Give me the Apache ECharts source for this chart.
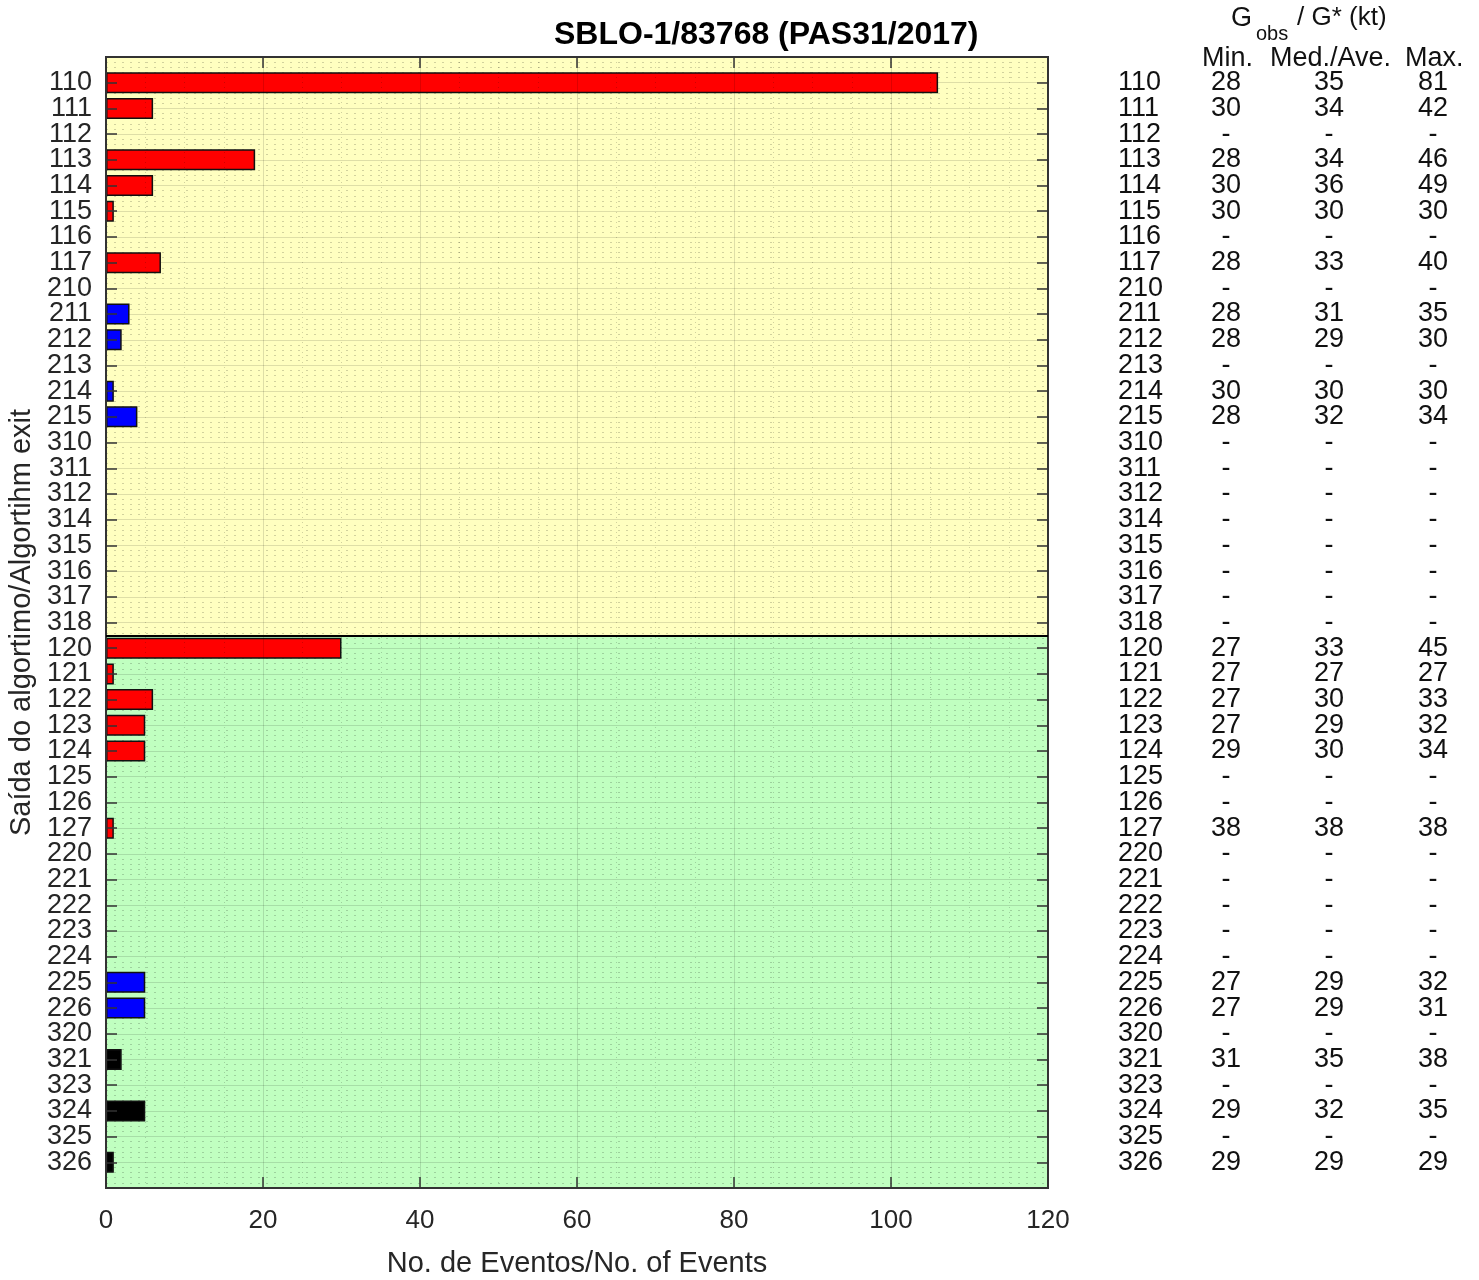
<!DOCTYPE html>
<html>
<head>
<meta charset="utf-8">
<script src="https://cdn.jsdelivr.net/npm/echarts@6/dist/echarts.min.js"></script>
<style>html,body{margin:0;padding:0;background:#fff;}#c{width:1479px;height:1280px;}</style>
</head>
<body>
<div id="c"></div>
<script>
const categories = ['110','111','112','113','114','115','116','117','210','211','212','213','214','215','310','311','312','314','315','316','317','318',
  '120','121','122','123','124','125','126','127','220','221','222','223','224','225','226','320','321','323','324','325','326'];
const eventCounts = [106,6,0,19,6,1,0,7,0,3,2,0,1,4,0,0,0,0,0,0,0,0,
  30,1,6,5,5,0,0,1,0,0,0,0,0,5,5,0,2,0,5,0,1];
const gMin = ['28','30','-','28','30','30','-','28','-','28','28','-','30','28','-','-','-','-','-','-','-','-',
  '27','27','27','27','29','-','-','38','-','-','-','-','-','27','27','-','31','-','29','-','29'];
const gMed = ['35','34','-','34','36','30','-','33','-','31','29','-','30','32','-','-','-','-','-','-','-','-',
  '33','27','30','29','30','-','-','38','-','-','-','-','-','29','29','-','35','-','32','-','29'];
const gMax = ['81','42','-','46','49','30','-','40','-','35','30','-','30','34','-','-','-','-','-','-','-','-',
  '45','27','33','32','34','-','-','38','-','-','-','-','-','32','31','-','38','-','35','-','29'];
const xTicks = [0,20,40,60,80,100,120];
const upperGroupSize = 22; // rows 110..318 form the upper (yellow) group

const chart = echarts.init(document.getElementById('c'));
const N = categories.length;
const groupSplit = upperGroupSize + 0.5;
const padCats = [''].concat(categories, ['']);
const colorFor = c => c[0] === '1' ? '#ff0000' : (c[0] === '2' ? '#0000ff' : '#000000');
const barData = [null].concat(eventCounts.map((v, i) => v > 0 ? {value: v, itemStyle: {color: colorFor(categories[i])}} : '-'), [null]);

const FONT = 'Liberation Sans, Arial, sans-serif';
const TXT = '#262626';
const FS = 26;
const FSY = 27;
const FRAME = {show: true, onZero: false, lineStyle: {color: '#333', width: 2}};
const TICK = {show: true, inside: true, length: 11, interval: 0, lineStyle: {color: '#333', width: 1.5}};

function tableAxis(arr, offset, align) {
  return {
    type: 'category', data: padCats, inverse: true, boundaryGap: false, position: 'right',
    offset: offset, gridIndex: 0,
    axisLine: {show: false, onZero: false}, axisTick: {show: false}, splitLine: {show: false},
    axisLabel: {interval: 0, margin: 0, align: align, fontSize: FSY, fontFamily: FONT, color: '#111',
      formatter: (v, idx) => (idx >= 1 && idx <= N) ? arr[idx - 1] : ''}
  };
}

const option = {
  animation: false,
  backgroundColor: '#ffffff',
  grid: {left: 106, right: 431, top: 57, bottom: 92, show: true, borderColor: '#333', borderWidth: 2,
    backgroundColor: 'transparent', containLabel: false, outerBoundsMode: 'none'},
  xAxis: [
    {type: 'value', min: 0, max: 120, interval: 20, position: 'bottom',
      axisLine: FRAME, axisTick: TICK,
      axisLabel: {fontSize: FS, fontFamily: FONT, color: TXT, margin: 20, formatter: v => xTicks.indexOf(v) >= 0 ? String(v) : ''},
      splitLine: {show: true, lineStyle: {color: 'rgba(0,0,0,0.13)', width: 1}},
      minorTick: {show: true, splitNumber: 4, length: 0, lineStyle: {opacity: 0}},
      minorSplitLine: {show: true, lineStyle: {color: 'rgba(0,0,0,0.18)', type: [1, 4], width: 1}},
      name: 'No. de Eventos/No. of Events', nameLocation: 'middle', nameGap: 61,
      nameTextStyle: {fontSize: 29, fontFamily: FONT, color: TXT}, z: 3},
    {type: 'value', min: 0, max: 120, interval: 20, position: 'top',
      axisLine: FRAME, axisTick: TICK,
      axisLabel: {show: false}, splitLine: {show: false}, z: 3}
  ],
  yAxis: [
    {type: 'category', data: padCats, inverse: true, boundaryGap: false, position: 'left',
      axisLine: FRAME, axisTick: TICK,
      axisLabel: {interval: 0, margin: 14, fontSize: FSY, fontFamily: FONT, color: TXT},
      splitLine: {show: false},
      name: 'Saída do algortimo/Algortihm exit', nameLocation: 'middle', nameGap: 70, nameRotate: 90,
      nameTextStyle: {fontSize: 29, fontFamily: FONT, color: TXT}, z: 3},
    {type: 'category', data: padCats, inverse: true, boundaryGap: false, position: 'right',
      axisLine: FRAME, axisTick: TICK,
      axisLabel: {show: false}, splitLine: {show: false}, z: 3},
    {type: 'value', min: 0, max: N + 1, interval: 1, inverse: true, show: true, position: 'left',
      axisLine: {show: false, onZero: false}, axisTick: {show: false}, axisLabel: {show: false},
      splitLine: {show: true, lineStyle: {color: 'rgba(0,0,0,0.13)', width: 1}},
      minorTick: {show: true, splitNumber: 5, length: 0, lineStyle: {opacity: 0}},
      minorSplitLine: {show: true, lineStyle: {color: 'rgba(0,0,0,0.18)', type: [2, 6], width: 1}}},
    tableAxis(categories, 70, 'left'),
    tableAxis(gMin, 178, 'center'),
    tableAxis(gMed, 281, 'center'),
    tableAxis(gMax, 385, 'center')
  ],
  series: [
    {type: 'line', xAxisIndex: 0, yAxisIndex: 2, data: [], z: -1, silent: true,
      markArea: {silent: true, z: -1, data: [
        [{yAxis: 0, itemStyle: {color: '#ffffc0'}}, {yAxis: groupSplit}],
        [{yAxis: groupSplit, itemStyle: {color: '#c0ffc0'}}, {yAxis: N + 1}]
      ]},
      markLine: {silent: true, z: 5, symbol: 'none', label: {show: false},
        lineStyle: {color: '#000', width: 2, type: 'solid'}, data: [{yAxis: groupSplit}]}},
    {type: 'bar', xAxisIndex: 0, yAxisIndex: 0, data: barData, barWidth: 21, z: 2,
      itemStyle: {borderColor: '#111', borderWidth: 1.5}}
  ],
  graphic: [
    {type: 'text', left: 554, top: 19, style: {text: 'SBLO-1/83768 (PAS31/2017)', font: 'bold 32px ' + FONT, fill: '#000'}},
    {type: 'text', left: 1231, top: 5, style: {text: 'G', font: '27px ' + FONT, fill: '#111'}},
    {type: 'text', left: 1256, top: 24, style: {text: 'obs', font: '20px ' + FONT, fill: '#111'}},
    {type: 'text', left: 1297, top: 5, style: {text: '/ G* (kt)', font: '26px ' + FONT, fill: '#111'}},
    {type: 'text', left: 1202, top: 45, style: {text: 'Min.', font: '27px ' + FONT, fill: '#111'}},
    {type: 'text', left: 1270, top: 45, style: {text: 'Med./Ave.', font: '27px ' + FONT, fill: '#111'}},
    {type: 'text', left: 1405, top: 45, style: {text: 'Max.', font: '27px ' + FONT, fill: '#111'}}
  ]
};
chart.setOption(option);
</script>
</body>
</html>
